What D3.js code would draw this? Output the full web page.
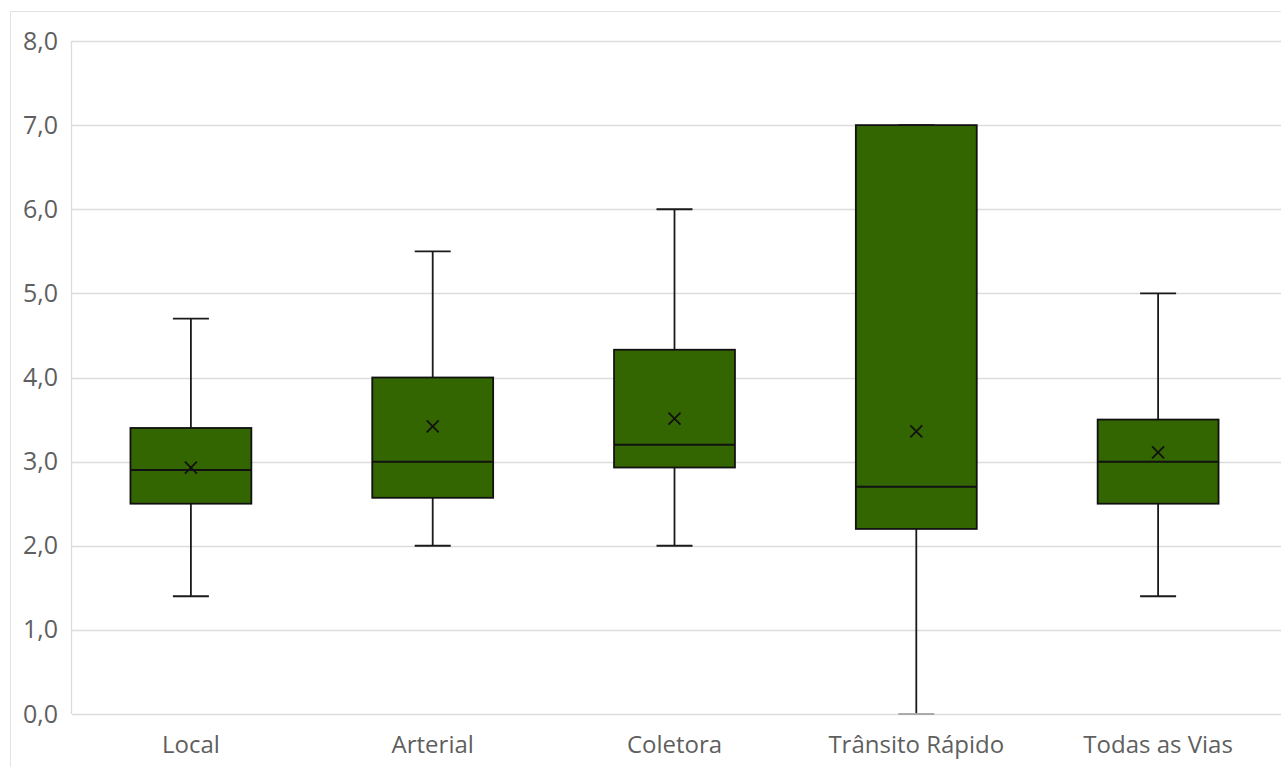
<!DOCTYPE html>
<html><head><meta charset="utf-8">
<script src="https://cdn.jsdelivr.net/npm/d3@7"></script>
<style>body{margin:0;background:#fff}svg{display:block}</style>
</head><body>
<svg id="c" width="1281" height="767"></svg>
<script>
const categories = ["Local","Arterial","Coletora","Trânsito Rápido","Todas as Vias"];
const minVals    = [1.4, 2.0, 2.0, 0.0, 1.4];
const q1Vals     = [2.5, 2.57, 2.93, 2.2, 2.5];
const medianVals = [2.9, 3.0, 3.2, 2.7, 3.0];
const q3Vals     = [3.4, 4.0, 4.33, 7.0, 3.5];
const maxVals    = [4.7, 5.5, 6.0, 7.0, 5.0];
const meanVals   = [2.93, 3.42, 3.51, 3.36, 3.11];
const yTicks     = [0,1,2,3,4,5,6,7,8];

const svg = d3.select("#c");
const L = 72, R = 1281, T = 41, B = 714;
const x = d3.scaleBand().domain(categories).range([70, 1279]);
const y = d3.scaleLinear().domain([0, 8]).range([B, T]);
const fmt = v => d3.format(".1f")(v).replace(".", ",");
const font = "'Open Sans', 'Liberation Sans', sans-serif";

// outer frame
svg.append("rect").attr("x",10.5).attr("y",11.5).attr("width",1290).attr("height",800)
  .attr("fill","none").attr("stroke","#e3e3e3");

// grid
svg.append("g").selectAll("line").data(yTicks).join("line")
  .attr("x1",L).attr("x2",R).attr("y1",d=>Math.round(y(d))+0.5).attr("y2",d=>Math.round(y(d))+0.5)
  .attr("stroke","#dcdcdc").attr("stroke-width",1.3);
svg.append("line").attr("x1",L-0.5).attr("x2",L-0.5).attr("y1",T).attr("y2",B)
  .attr("stroke","#dcdcdc").attr("stroke-width",1.3);

// y axis labels
const yAxis = d3.axisLeft(y).tickValues(yTicks).tickFormat(fmt).tickSize(0).tickPadding(14);
const ga = svg.append("g").attr("transform",`translate(${L},0)`).call(yAxis);
ga.select(".domain").remove();
ga.selectAll("text").attr("fill","#5f5f5f").style("font-family",font).style("font-size","25px");

// x axis labels
const xAxis = d3.axisBottom(x).tickSize(0).tickPadding(22);
const gx = svg.append("g").attr("transform",`translate(0,${B})`).call(xAxis);
gx.select(".domain").remove();
gx.selectAll("text").attr("fill","#5f5f5f").style("font-family",font).style("font-size","24px");

const bw = x.bandwidth()*0.5, cap = 36;
const data = categories.map((c,i)=>({c, min:minVals[i], q1:q1Vals[i], med:medianVals[i], q3:q3Vals[i], max:maxVals[i], mean:meanVals[i]}));
const g = svg.append("g").selectAll("g").data(data).join("g")
  .attr("transform",d=>`translate(${x(d.c)+x.bandwidth()/2},0)`);

// whiskers
const ws = "#1a1a1a", sw = 1.8;
g.append("line").attr("x1",0).attr("x2",0).attr("y1",d=>y(d.q3)).attr("y2",d=>y(d.max)).attr("stroke",ws).attr("stroke-width",sw);
g.append("line").attr("x1",0).attr("x2",0).attr("y1",d=>y(d.q1)).attr("y2",d=>y(d.min)).attr("stroke",ws).attr("stroke-width",sw);
g.append("line").attr("x1",-cap/2).attr("x2",cap/2).attr("y1",d=>y(d.max)).attr("y2",d=>y(d.max)).attr("stroke",ws).attr("stroke-width",sw);
g.append("line").attr("x1",-cap/2).attr("x2",cap/2).attr("y1",d=>y(d.min)).attr("y2",d=>y(d.min))
  .attr("stroke",d=>d.min===0?"#aaaaaa":ws).attr("stroke-width",sw);

// box
g.append("rect").attr("x",-bw/2).attr("width",bw).attr("y",d=>y(d.q3)).attr("height",d=>y(d.q1)-y(d.q3))
  .attr("fill","#336600").attr("stroke","#111").attr("stroke-width",1.8);
g.append("line").attr("x1",-bw/2).attr("x2",bw/2).attr("y1",d=>y(d.med)).attr("y2",d=>y(d.med)).attr("stroke","#111").attr("stroke-width",2);

// mean marker
const s = 6;
g.append("path").attr("d",d=>{const yy=y(d.mean);return `M${-s},${yy-s}L${s},${yy+s}M${-s},${yy+s}L${s},${yy-s}`;})
  .attr("stroke","#111").attr("stroke-width",1.8).attr("fill","none");
</script>
</body></html>
